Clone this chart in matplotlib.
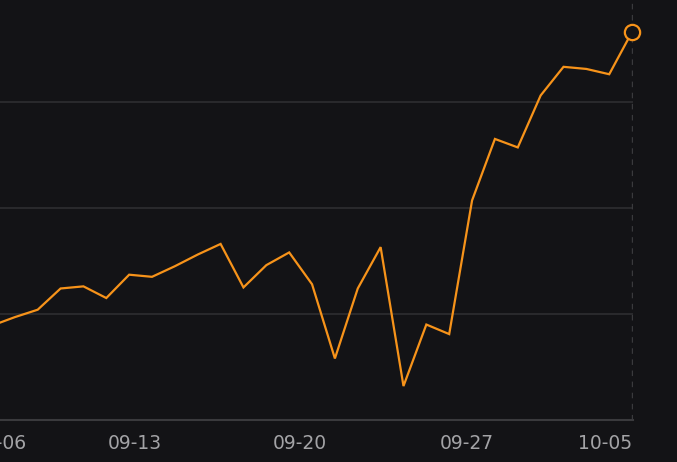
import numpy as np
import matplotlib.pyplot as plt

# values (one point per day)
prices = [108.9, 109.7, 110.4, 112.4, 112.6, 111.5, 113.7, 113.5, 114.5, 115.6,
          116.6, 112.5, 114.6, 115.8, 112.8, 105.8, 112.4, 116.3, 103.2, 109.0,
          108.1, 120.7, 126.5, 125.7, 130.6, 133.3, 133.1, 132.6, 136.6]
tick_pos = [0.35, 6.24, 13.48, 20.76]
tick_labels = ["09-06", "09-13", "09-20", "09-27"]
last_label = "10-05"
grid_levels = [110, 120, 130]

bg = "#131316"
orange = "#f7931a"

x = np.arange(len(prices))

fig = plt.figure(figsize=(6.77, 4.62), dpi=100, facecolor=bg)
ax = fig.add_axes([0, 42 / 462, 633 / 677, 420 / 462], facecolor=bg)

for g in grid_levels:
    ax.axhline(g, color="#2c2c2f", lw=1.3, zorder=1)

ax.axvline(x[-1], color="#3a3a3d", lw=1, ls=(0, (4, 4)), zorder=1)
ax.plot(x, prices, color=orange, lw=1.6, zorder=3, solid_joinstyle="miter")
ax.plot(x[-1], prices[-1], "o", ms=11, mfc=bg, mec=orange, mew=1.6, zorder=4,
        clip_on=False)

ax.set_xlim(0.436, 28.04)
ax.set_ylim(100, 139.6)

for s in ["top", "left", "right"]:
    ax.spines[s].set_visible(False)
ax.spines["bottom"].set_color("#3a3a3d")
ax.spines["bottom"].set_linewidth(1.5)

ax.set_yticks([])
ax.set_xticks(tick_pos)
ax.set_xticklabels(tick_labels)
ax.tick_params(axis="x", length=0, pad=10, labelsize=13.5, colors="#a3a3a6")
ax.annotate(last_label, xy=(x[-1], 0), xycoords=ax.get_xaxis_transform(),
            xytext=(0, -10), textcoords="offset points", ha="right", va="top",
            fontsize=13.5, color="#a3a3a6", annotation_clip=False)

fig.savefig("out.png", dpi=100, facecolor=bg)
